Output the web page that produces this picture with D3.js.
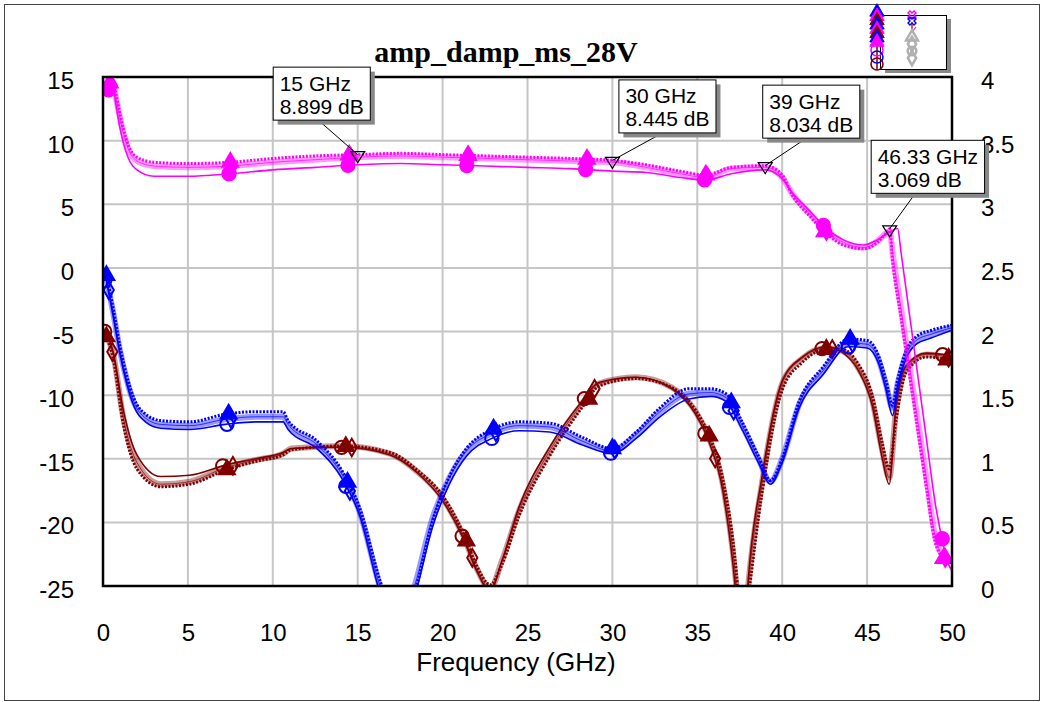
<!DOCTYPE html>
<html>
<head>
<meta charset="utf-8">
<script src="https://cdn.jsdelivr.net/npm/d3@7"></script>
<style>
  body { margin: 0; background: #fff; }
  svg { display: block; }
</style>
</head>
<body>
<svg id="chart"></svg>
<script>
  // Axis ticks
  const xTicks = [0, 5, 10, 15, 20, 25, 30, 35, 40, 45, 50];
  const leftTicks = [-25, -20, -15, -10, -5, 0, 5, 10, 15];
  const rightTicks = [0, 0.5, 1, 1.5, 2, 2.5, 3, 3.5, 4];

  // Gain trace (magenta), dB
  const gainFreq = [0.3, 0.6, 0.8, 1.0, 1.2, 1.5, 2.0, 3.0, 5.0, 7.5, 10, 12.5, 15, 17.5, 20, 22.5, 25, 27.5, 30, 32,
    34, 35.5, 37, 39, 40, 40.6, 41.6, 42.6, 43.6, 44.8, 45.6, 46.1, 46.33, 46.5, 47.0, 47.5, 48.0, 48.5, 49.0, 49.3, 49.6, 50];
  const gainHi = [14.5, 14.6, 13.4, 12.1, 10.9, 9.6, 8.7, 8.3, 8.2, 8.3, 8.6, 8.8, 8.9, 9.0, 8.9, 8.8, 8.7, 8.6, 8.45, 8.1,
    7.6, 7.3, 7.9, 8.03, 7.3, 5.7, 4.1, 2.7, 1.8, 1.5, 2.0, 2.7, 3.07, 0.6, -3.9, -8.4, -12.9, -17.3, -21.5, -22.5, -23.0, -23.2];
  const gainMid = [14.3, 14.4, 13.1, 11.8, 10.6, 9.3, 8.4, 8.0, 7.9, 8.0, 8.3, 8.5, 8.7, 8.8, 8.7, 8.6, 8.5, 8.4, 8.3, 7.9,
    7.4, 7.1, 7.8, 7.9, 7.1, 5.8, 4.3, 2.9, 2.0, 1.6, 2.1, 2.7, 2.9, 1.2, -3.2, -7.7, -12.1, -16.6, -21.0, -22.3, -22.8, -23.0];
  const gainLoFreq = [0.3, 0.6, 0.8, 1.0, 1.2, 1.5, 2.0, 3.0, 5.0, 7.5, 10, 12.5, 15, 17.5, 20, 22.5, 25, 27.5, 30, 32,
    34, 35.5, 37, 39, 40, 40.6, 41.6, 42.6, 43.6, 44.8, 45.6, 46.3, 46.8, 47.0, 47.5, 48.0, 48.5, 49.0, 49.5, 49.8, 50];
  const gainLo = [14.0, 13.9, 12.5, 11.0, 9.8, 8.6, 7.7, 7.2, 7.2, 7.4, 7.7, 7.9, 8.1, 8.2, 8.1, 8.0, 7.9, 7.8, 7.6, 7.5,
    7.1, 6.9, 7.4, 7.7, 7.0, 5.9, 4.5, 3.1, 2.2, 1.8, 2.2, 2.8, 3.1, 1.2, -3.7, -8.6, -13.5, -18.4, -21.8, -23.3, -23.8];
  const gainMarkFreq = [0.4, 7.5, 14.5, 21.5, 28.5, 35.5, 42.5, 49.5];

  // Input match (blue), dB
  const s11Freq = [0.2, 0.6, 1.0, 1.4, 1.8, 2.5, 3.4, 5.1, 7.2, 9.0, 10.6, 10.9, 12.6, 14.1, 15.1, 16.3, 17.3, 18.35, 19.4, 20.4,
    21.4, 22.9, 24.5, 26.3, 28.2, 30.0, 31.4, 32.8, 34.5, 35.8, 36.7, 37.6, 38.6, 39.3, 40.0, 41.0, 42.4, 43.9, 45.0, 45.7,
    46.1, 46.5, 46.8, 47.3, 47.9, 48.8, 50];
  const s11Hi = [-0.6, -3.2, -6.2, -8.5, -10.2, -11.5, -12.0, -12.1, -11.5, -11.3, -11.3, -12.0, -13.6, -16.0, -18.8, -24.5, -28.0, -25.5, -19.9, -16.4,
    -14.2, -12.7, -12.1, -12.2, -13.3, -14.2, -12.9, -11.0, -9.5, -9.5, -9.9, -12.0, -14.8, -16.7, -15.0, -10.5, -7.8, -5.6, -5.7, -7.0,
    -8.8, -10.8, -8.8, -6.5, -5.4, -4.9, -4.5];
  const s11Mid = [-0.8, -3.5, -6.5, -8.8, -10.5, -11.8, -12.3, -12.4, -11.9, -11.7, -11.7, -12.3, -13.9, -16.3, -19.1, -25.0, -28.5, -25.0, -19.7, -16.5,
    -14.4, -13.0, -12.4, -12.5, -13.6, -14.4, -13.1, -11.3, -9.9, -9.8, -10.2, -12.3, -15.0, -16.8, -15.0, -10.7, -8.1, -5.9, -6.0, -7.3,
    -9.1, -11.0, -9.1, -6.8, -5.7, -5.2, -4.7];
  const s11Lo = [-1.0, -3.8, -6.8, -9.1, -10.8, -12.1, -12.6, -12.7, -12.3, -12.1, -12.1, -12.7, -14.2, -16.6, -19.4, -25.5, -29.0, -25.8, -20.4, -17.0,
    -14.8, -13.4, -12.8, -12.9, -13.9, -14.6, -13.4, -11.7, -10.3, -10.1, -10.5, -12.6, -15.3, -17.0, -15.3, -11.0, -8.4, -6.2, -6.3, -7.6,
    -9.5, -11.6, -9.4, -7.1, -6.0, -5.5, -4.9];
  const s11MarkFreq = [0.2, 7.4, 14.4, 23.0, 30.0, 37.0, 44.0];

  // Output match (dark red), dB
  const s22Freq = [0.2, 0.6, 1.2, 2.0, 3.4, 5.1, 7.2, 9.0, 10.6, 11.1, 14.1, 16.9, 18.5, 20.0, 21.2, 22.0, 22.8, 23.5, 24.5, 26.3,
    28.2, 29.2, 31.4, 33.5, 34.9, 35.7, 36.5, 37.3, 37.65, 38.0, 38.8, 40.0, 41.2, 42.6, 43.5, 44.5, 45.3, 45.9, 46.3, 46.7,
    47.3, 48.5, 50];
  const s22Hi = [-5.4, -7.1, -12.3, -15.8, -17.2, -17.0, -15.9, -15.2, -14.7, -14.3, -14.0, -14.5, -15.9, -17.9, -20.8, -23.4, -24.9, -23.3, -19.5, -14.8,
    -11.0, -9.3, -8.7, -9.4, -11.2, -13.2, -16.6, -24.0, -30.0, -26.0, -17.8, -9.6, -7.4, -6.4, -6.4, -7.6, -10.0, -13.8, -15.8, -12.0,
    -8.2, -7.0, -7.3];
  const s22Mid = [-5.2, -6.8, -11.8, -15.3, -17.0, -16.8, -15.7, -15.1, -14.6, -14.2, -14.0, -14.6, -16.0, -18.1, -21.0, -23.6, -25.2, -23.0, -19.1, -14.4,
    -10.7, -9.1, -8.6, -9.4, -11.3, -13.4, -17.0, -25.0, -31.0, -25.0, -17.0, -9.1, -7.1, -6.3, -6.5, -7.9, -10.4, -14.4, -16.5, -11.3,
    -7.9, -6.8, -7.1];
  const s22Lo = [-5.0, -6.6, -11.2, -14.7, -16.4, -16.3, -15.5, -15.0, -14.5, -14.2, -14.1, -14.7, -16.1, -18.3, -21.2, -23.8, -25.4, -23.0, -18.8, -14.1,
    -10.5, -9.0, -8.6, -9.5, -11.5, -13.7, -17.5, -26.0, -32.0, -24.5, -16.5, -8.9, -7.0, -6.2, -6.6, -8.1, -10.8, -15.0, -17.0, -10.8,
    -7.7, -6.7, -6.9];
  const s22MarkFreq = [0.2, 7.3, 14.3, 21.4, 28.6, 35.7, 42.6, 49.7];

  // Readout markers on the gain trace
  const readFreq = [15, 30, 39, 46.33];
  const readDb = [8.899, 8.445, 8.034, 3.069];
  const readOffset = [[-85, -88], [6, -81], [-3, -81], [-19, -89]];

  const width = 1042, height = 702;
  const plot = { left: 103, right: 952, top: 77, bottom: 586 };

  const svg = d3.select("#chart").attr("width", width).attr("height", height)
      .style("font-family", "'Liberation Sans', Arial, sans-serif");

  const x = d3.scaleLinear().domain([0, 50]).range([plot.left, plot.right]);
  const yL = d3.scaleLinear().domain([-25, 15]).range([plot.bottom, plot.top]);
  const yR = d3.scaleLinear().domain([0, 4]).range([plot.bottom, plot.top]);

  // outer frame
  svg.append("rect").attr("x", 4.5).attr("y", 4.5).attr("width", 1035).attr("height", 696)
      .attr("fill", "none").attr("stroke", "#444").attr("stroke-width", 1);

  // grid
  const grid = svg.append("g").attr("stroke", "#c6c6c6").attr("stroke-width", 2);
  grid.selectAll("line.v").data(xTicks.slice(1, -1)).join("line").attr("class", "v")
      .attr("x1", d => x(d)).attr("x2", d => x(d)).attr("y1", plot.top).attr("y2", plot.bottom);
  grid.selectAll("line.h").data(leftTicks.slice(1, -1)).join("line").attr("class", "h")
      .attr("y1", d => yL(d)).attr("y2", d => yL(d)).attr("x1", plot.left).attr("x2", plot.right);

  svg.append("clipPath").attr("id", "clip").append("rect")
      .attr("x", plot.left).attr("y", plot.top)
      .attr("width", plot.right - plot.left).attr("height", plot.bottom - plot.top);

  const traces = [
    { color: "#800000", f: s22Freq, fLo: s22Freq, hi: s22Hi, mid: s22Mid, lo: s22Lo, marks: s22MarkFreq, solid: false, spread: 1 },
    { color: "#0000ff", f: s11Freq, fLo: s11Freq, hi: s11Hi, mid: s11Mid, lo: s11Lo, marks: s11MarkFreq, solid: false, spread: 0.4 },
    { color: "#ff00ff", f: gainFreq, fLo: gainLoFreq, hi: gainHi, mid: gainMid, lo: gainLo, marks: gainMarkFreq, solid: true, spread: 0.3 }
  ];

  const lineOf = fs => d3.line().x((d, i) => x(fs[i])).y(d => yL(d)).curve(d3.curveMonotoneX);

  function at(fs, vs, f) {
    let i = d3.bisectLeft(fs, f);
    if (i <= 0) return vs[0];
    if (i >= fs.length) return vs[vs.length - 1];
    const t = (f - fs[i - 1]) / (fs[i] - fs[i - 1]);
    return vs[i - 1] + t * (vs[i] - vs[i - 1]);
  }

  const curves = svg.append("g").attr("clip-path", "url(#clip)");

  traces.forEach(tr => {
    const g = curves.append("g");
    g.append("path").attr("d", lineOf(tr.f)(tr.mid)).attr("fill", "none")
        .attr("stroke", tr.color).attr("stroke-opacity", 0.4).attr("stroke-width", 6);
    g.append("path").attr("d", lineOf(tr.f)(tr.mid)).attr("fill", "none")
        .attr("stroke", tr.color).attr("stroke-opacity", 0.7).attr("stroke-width", 1);
    g.append("path").attr("d", lineOf(tr.f)(tr.hi)).attr("fill", "none")
        .attr("stroke", tr.color).attr("stroke-width", 3).attr("stroke-dasharray", "2,1.5");
    g.append("path").attr("d", lineOf(tr.fLo)(tr.lo)).attr("fill", "none")
        .attr("stroke", tr.color).attr("stroke-width", 1.6);

    // symbols on each variant
    const variants = [
      { f: tr.f, v: tr.hi, shift: 0, type: d3.symbolTriangle, size: 110, filled: true },
      { f: tr.f, v: tr.mid, shift: 0.35, type: d3.symbolDiamond, size: 90, filled: tr.solid },
      { f: tr.fLo, v: tr.lo, shift: -0.25, type: d3.symbolCircle, size: 140, filled: tr.solid }
    ];
    variants.forEach(vr => {
      g.selectAll(null).data(tr.marks).join("path")
          .attr("transform", d => {
            const f = Math.max(0.1, Math.min(49.8, d + vr.shift * tr.spread));
            return `translate(${x(f)},${yL(at(vr.f, vr.v, f))})`;
          })
          .attr("d", d3.symbol(vr.type, vr.size))
          .attr("fill", vr.filled ? tr.color : "none")
          .attr("stroke", tr.color).attr("stroke-width", 2);
    });
  });

  // plot frame
  svg.append("rect").attr("x", plot.left).attr("y", plot.top)
      .attr("width", plot.right - plot.left).attr("height", plot.bottom - plot.top)
      .attr("fill", "none").attr("stroke", "#000").attr("stroke-width", 2.5);

  // axes
  const axL = svg.append("g").attr("transform", `translate(${plot.left},0)`)
      .call(d3.axisLeft(yL).tickValues(leftTicks).tickSize(0).tickPadding(29).tickFormat(d => String(d)));
  const axR = svg.append("g").attr("transform", `translate(${plot.right},0)`)
      .call(d3.axisRight(yR).tickValues(rightTicks).tickSize(0).tickPadding(29).tickFormat(d => String(d)));
  const axB = svg.append("g").attr("transform", `translate(0,${plot.bottom})`)
      .call(d3.axisBottom(x).tickValues(xTicks).tickSize(0).tickPadding(38).tickFormat(d => String(d)));
  [axL, axR, axB].forEach(a => {
    a.select(".domain").remove();
    a.selectAll("text").attr("font-size", 24).attr("fill", "#000")
        .attr("font-family", "'Liberation Sans', Arial, sans-serif");
  });
  axL.selectAll("text").attr("dy", "0.48em");
  axR.selectAll("text").attr("dy", "0.48em");

  svg.append("text").attr("x", 516).attr("y", 671).attr("text-anchor", "middle")
      .attr("font-size", 26).text("Frequency (GHz)");

  svg.append("text").attr("x", 506).attr("y", 62).attr("text-anchor", "middle")
      .attr("font-family", "'Liberation Serif', 'Times New Roman', serif")
      .attr("font-weight", "bold").attr("font-size", 30).text("amp_damp_ms_28V");

  // readout callouts
  const notes = svg.append("g");
  readFreq.forEach((f, i) => {
    const xp = x(f), yp = yL(readDb[i]);
    const bx = xp + readOffset[i][0], by = yp + readOffset[i][1];
    const g = notes.append("g");
    const shadow = g.append("rect").attr("fill", "#888");
    const box = g.append("rect").attr("fill", "#fff").attr("stroke", "#000").attr("stroke-width", 1);
    const t1 = g.append("text").attr("x", bx + 7).attr("y", by + 24).attr("font-size", 21).text(`${f} GHz`);
    const t2 = g.append("text").attr("x", bx + 7).attr("y", by + 47).attr("font-size", 21).text(`${readDb[i]} dB`);
    const w = Math.max(t1.node().getComputedTextLength(), t2.node().getComputedTextLength()) + 13;
    shadow.attr("x", bx + 5).attr("y", by + 5).attr("width", w).attr("height", 53);
    box.attr("x", bx + 0.5).attr("y", by + 0.5).attr("width", w).attr("height", 53);
    g.insert("line", "rect").attr("x1", bx + 45).attr("y1", by + 53).attr("x2", xp).attr("y2", yp)
        .attr("stroke", "#000").attr("stroke-width", 1);
    svg.append("path").attr("d", `M${xp - 7},${yp - 3}L${xp + 7},${yp - 3}L${xp},${yp + 8}Z`)
        .attr("fill", "none").attr("stroke", "#000").attr("stroke-width", 1.2);
  });

  // legend (compressed, symbols only)
  const leg = svg.append("g");
  leg.append("rect").attr("x", 885).attr("y", 19).attr("width", 66).attr("height", 54).attr("fill", "#888");
  leg.append("rect").attr("x", 880.5).attr("y", 15.5).attr("width", 66).attr("height", 54)
      .attr("fill", "#fff").attr("stroke", "#000");
  const legColors = ["#0000ff", "#ff00ff", "#800000"];
  leg.append("line").attr("x1", 877).attr("x2", 877).attr("y1", 10).attr("y2", 70).attr("stroke", "#800000").attr("stroke-width", 1.5);
  d3.range(8).forEach(i => {
    leg.append("path").attr("transform", `translate(877,${12 + i * 4.3})`)
        .attr("d", d3.symbol(d3.symbolTriangle, 90)).attr("fill", legColors[i % 3]).attr("stroke", legColors[i % 3]);
  });
  [["#ff00ff", 50], ["#0000ff", 57], ["#800000", 64]].forEach(([c, yy]) => {
    leg.append("circle").attr("cx", 877).attr("cy", yy).attr("r", 6).attr("fill", "none").attr("stroke", c).attr("stroke-width", 1.6);
  });
  [["#ff00ff", 15], ["#0000ff", 21]].forEach(([c, yy]) => {
    leg.append("path").attr("transform", `translate(912,${yy}) rotate(45)`)
        .attr("d", d3.symbol(d3.symbolCross, 40)).attr("fill", "none").attr("stroke", c).attr("stroke-width", 1.4);
  });
  leg.append("line").attr("x1", 912).attr("x2", 912).attr("y1", 22).attr("y2", 32).attr("stroke", "#800000").attr("stroke-width", 1.2);
  leg.append("line").attr("x1", 912).attr("x2", 916).attr("y1", 32).attr("y2", 27).attr("stroke", "#ff00ff").attr("stroke-width", 1.2);
  [[d3.symbolTriangle, 37], [d3.symbolDiamond, 44], [d3.symbolCircle, 51], [d3.symbolDiamond, 58]].forEach(([s, yy]) => {
    leg.append("path").attr("transform", `translate(912,${yy})`)
        .attr("d", d3.symbol(s, 60)).attr("fill", "none").attr("stroke", "#b0b0b0").attr("stroke-width", 2.5);
  });
</script>
</body>
</html>
